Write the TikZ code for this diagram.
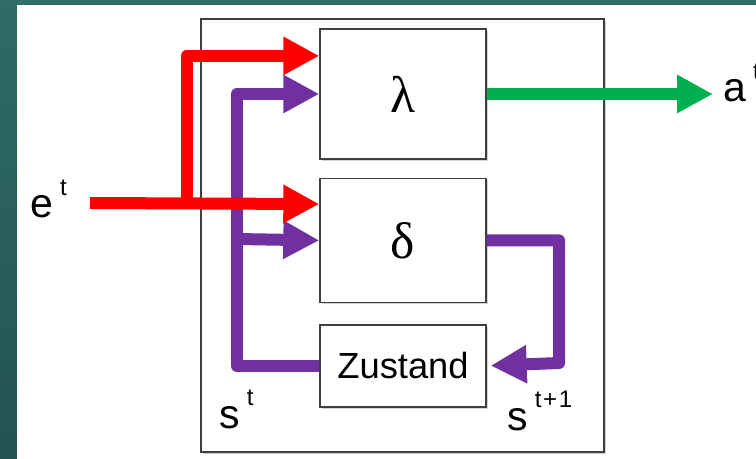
\documentclass[tikz,border=0pt]{standalone}
\usepackage{fontspec}
\setmainfont{Liberation Sans}
\newfontfamily\griech{Liberation Serif}
\usetikzlibrary{arrows.meta,positioning,shadows,calc}
\definecolor{folie}{RGB}{46,108,101}
\definecolor{foliedunkel}{RGB}{36,82,84}
\definecolor{rahmengrau}{RGB}{64,64,64}
\definecolor{signalrot}{RGB}{255,0,0}
\definecolor{zustandlila}{RGB}{112,48,160}
\definecolor{ausgabegruen}{RGB}{0,176,80}
\newcommand{\hoch}[1]{\kern6pt\raisebox{19pt}{\fontsize{20.5}{22}\selectfont #1}}
\tikzset{
  kasten/.style={rectangle,draw=rahmengrau,line width=1.2pt,fill=white,
    minimum width=4.98cm,align=center,inner sep=0pt,
    drop shadow={shadow xshift=1.5pt,shadow yshift=-1.5pt,opacity=0.35}},
  griechisch/.style={font=\griech\fontsize{44}{44}\selectfont},
  pfeil/.style={-{Triangle[length=1.08cm,width=1.08cm]},line width=0.36cm,line join=round},
  beschr/.style={anchor=base west,inner sep=0pt,font=\fontsize{35}{40}\selectfont},
}
\begin{document}
\begin{tikzpicture}[x=0.03cm,y=-0.03cm]
  \useasboundingbox (0,0) rectangle (756,459);
  \clip (0,0) rectangle (756,459);
  % Folienhintergrund
  \shade[top color=folie,bottom color=foliedunkel] (0,0) rectangle (756,459);
  \fill[white] (17,5) rectangle (756,459);

  % Automat
  \node[kasten,minimum width=12.09cm,minimum height=12.99cm] (system) at (402.5,235.5) {};
  \node[kasten,minimum height=3.9cm,griechisch] (lambda) at (403,94) {λ};
  \node[kasten,minimum height=3.72cm,griechisch,below=0.54cm of lambda] (delta) {δ};
  \node[kasten,minimum height=2.46cm,font=\fontsize{31}{36}\selectfont,
    below=0.63cm of delta] (zustand) {Zustand};

  \coordinate (ein) at (90,203);
  \coordinate (abzweig) at (187,203);
  \coordinate (rueck) at (237,239);
  \coordinate (schleife) at (559,363);
  \coordinate (aus) at (713,94);
  \coordinate (lambdaein) at ($(lambda.north west)!0.21!(lambda.south west)$);
  \coordinate (deltaein) at ($(delta.north west)!0.21!(delta.south west)$);

  % Zustand
  \draw[pfeil,zustandlila] (zustand.west) -| (rueck |- lambda.west) -- (lambda.west);
  \draw[pfeil,zustandlila] (rueck) -- (delta.west);
  \draw[pfeil,zustandlila,shorten >=1.2mm] (delta.east) -| (schleife) -- (zustand.east);
  % Eingabe
  \draw[pfeil,signalrot] (ein) -- (deltaein);
  \draw[pfeil,signalrot] (abzweig) |- (lambdaein);
  % Ausgabe
  \draw[pfeil,ausgabegruen] (lambda.east) -- (aus);

  \node[beschr] (elabel) at (30,218) {e\hoch{t}};
  \node[beschr] (alabel) at (723,102) {a\hoch{t}};
  \node[beschr] (slabel) at (219,428) {s\hoch{t}};
  \node[beschr] (snlabel) at (507,430) {s\hoch{t\kern1.5pt+\kern1.5pt1}};
\end{tikzpicture}
\end{document}
